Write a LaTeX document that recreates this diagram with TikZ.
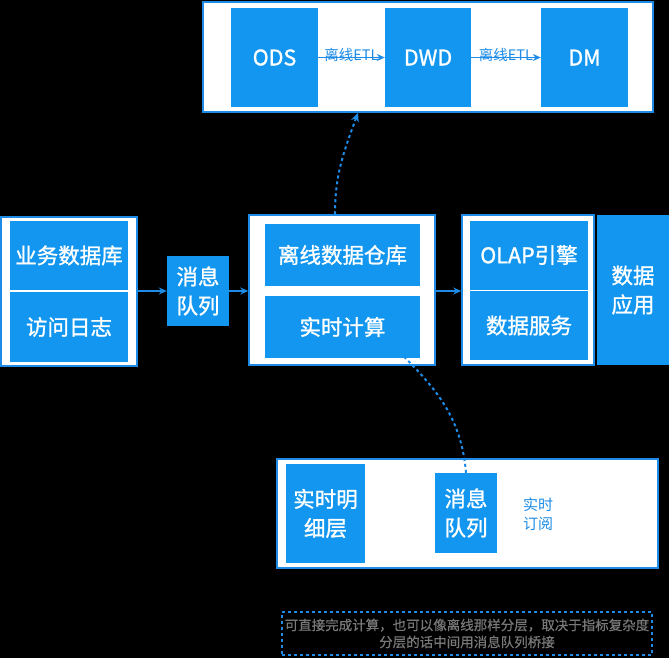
\documentclass[tikz,border=0pt]{standalone}
\usepackage{fontspec}
\setmainfont{Noto Sans CJK SC}
\newfontfamily\boldish{Noto Sans CJK SC}[FakeBold=1.2]
\newfontfamily\semibold{Noto Sans CJK SC}[FakeBold=0.6]
\usetikzlibrary{arrows.meta,calc}
\definecolor{myblue}{RGB}{18,150,240}
\definecolor{lineblue}{RGB}{30,140,230}
\definecolor{notegray}{RGB}{120,120,120}
\begin{document}
\begin{tikzpicture}[x=1pt,y=-1pt,
 fs/.style={font=\boldish\fontsize{21.5}{29}\selectfont},
 bluebox/.style={fill=myblue,text=white,inner sep=0pt,align=center,fs},
 frame/.style={fill=white,draw=lineblue,line width=1.5pt,inner sep=0pt},
 flow/.style={draw=lineblue,line width=1.5pt,-{Stealth[length=8pt,width=7pt]}},
 dashflow/.style={draw=lineblue,line width=2pt,dash pattern=on 3pt off 3pt},
 etl/.style={text=lineblue,font=\fontsize{14.5}{16}\selectfont,inner sep=0pt}
]
\fill[black] (0,0) rectangle (669,658);
\useasboundingbox (0,0) rectangle (669,658);

% top layer
\node[frame,minimum width=450pt,minimum height=110pt] (top) at (428,57) {};
\node[bluebox,minimum width=87pt,minimum height=99pt] (ods) at (274.5,57.5) {ODS};
\node[bluebox,minimum width=86pt,minimum height=99pt] (dwd) at (428,57.5) {DWD};
\node[bluebox,minimum width=87pt,minimum height=99pt] (dm) at (584.5,57.5) {DM};
\draw[flow] (ods.east) -- node[etl,midway,yshift=3pt]{离线ETL} (dwd.west);
\draw[flow] (dwd.east) -- node[etl,midway,yshift=3pt]{离线ETL} (dm.west);

% sources
\node[frame,minimum width=136pt,minimum height=149pt] (src) at (69,291.5) {};
\node[bluebox,minimum width=118pt,minimum height=69pt] (db) at (69,255.5) {业务数据库};
\node[bluebox,minimum width=118pt,minimum height=70pt] (log) at (69,327) {访问日志};

% queue
\node[bluebox,minimum width=62pt,minimum height=70pt] (mq) at (198,291) {消息\\队列};

% middle
\node[frame,minimum width=186pt,minimum height=150pt] (mid) at (342,290) {};
\node[bluebox,minimum width=155pt,minimum height=62pt] (off) at (342.5,255) {离线数据仓库};
\node[bluebox,minimum width=155pt,minimum height=62pt] (rt) at (342.5,327) {实时计算};

% olap
\node[frame,minimum width=132pt,minimum height=150pt] (olapf) at (528,290) {};
\node[bluebox,minimum width=118pt,minimum height=69pt] (olap) at (529,255) {OLAP引擎};
\node[bluebox,minimum width=118pt,minimum height=69pt] (svc) at (529,325.5) {数据服务};
\node[bluebox,minimum width=72pt,minimum height=150pt] (app) at (633,290) {数据\\应用};

\draw[flow] (src.east |- mq.west) -- (mq.west);
\draw[flow] (mq.east) -- (mq.east -| mid.west);
\draw[flow] (mid.east |- mq.east) -- (mq.east -| olapf.west);

% realtime layer
\node[frame,minimum width=381pt,minimum height=109pt] (rtl) at (467.5,513.5) {};
\node[bluebox,minimum width=79pt,minimum height=99pt] (dtl) at (325.5,513.5) {实时明\\细层};
\node[bluebox,minimum width=62pt,minimum height=80pt] (mq2) at (466,513) {消息\\队列};
\node[text=lineblue,align=left,inner sep=0pt,font=\fontsize{15}{19}\selectfont] (sub) at (538,514) {实时\\订阅};

% dashed connectors
\draw[dashflow,-{Stealth[length=9pt,width=8pt]}] ([xshift=-7pt]mid.north) to[out=90,in=-110] ([xshift=-70pt]top.south);
\draw[dashflow] (mq2.north) to[out=95,in=-45] ([xshift=62pt,yshift=1pt]rt.south);

% note
\node[draw=lineblue,dash pattern=on 3pt off 3pt,line width=1.5pt,minimum width=370pt,minimum height=43pt,text=notegray,align=center,inner sep=0pt,font=\semibold\fontsize{13.5}{17}\selectfont] (note) at (467,633.5) {可直接完成计算，也可以像离线那样分层，取决于指标复杂度\\分层的话中间用消息队列桥接};
\end{tikzpicture}
\end{document}
